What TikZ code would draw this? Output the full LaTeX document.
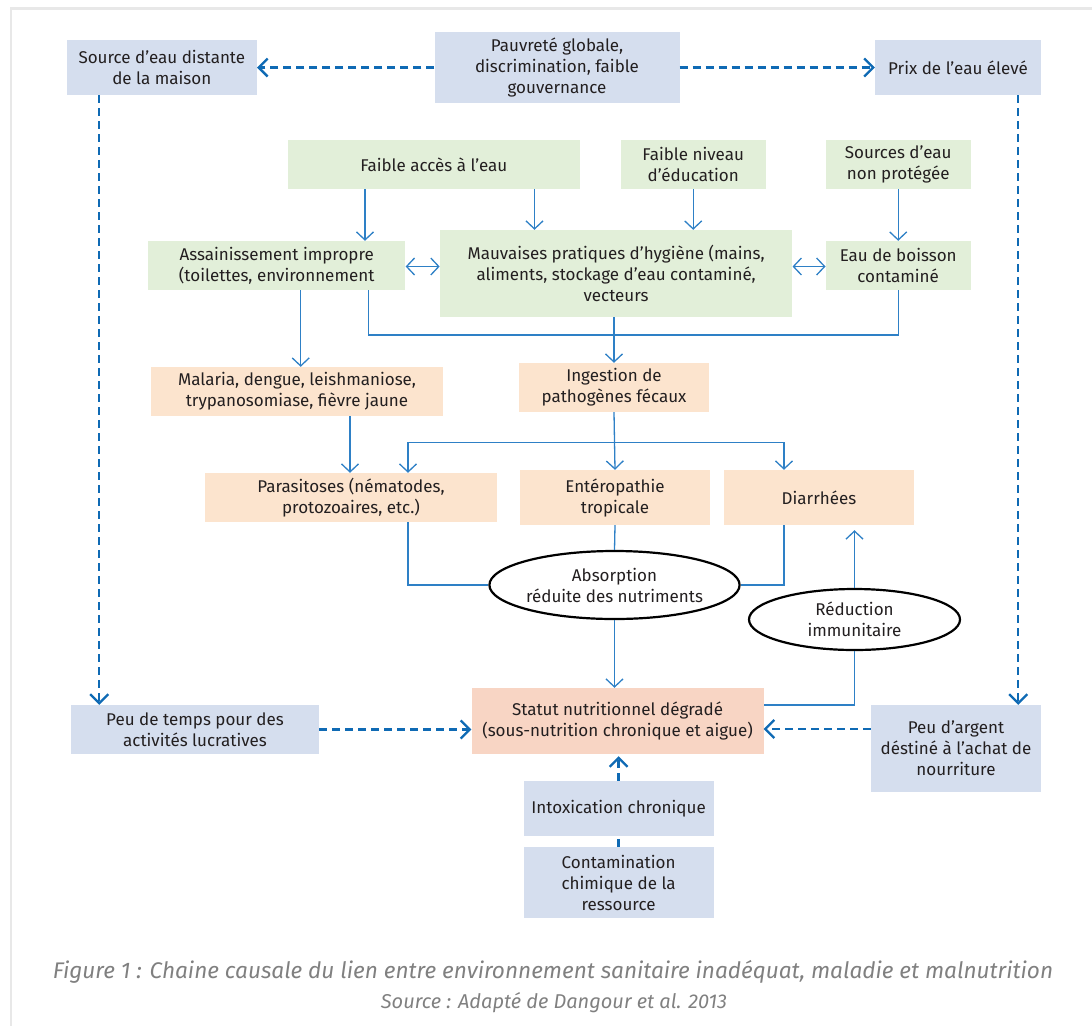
\documentclass[tikz,border=0pt]{standalone}
\usepackage{fontspec}
\setmainfont{Fira Sans}
\usetikzlibrary{shapes.geometric, positioning, arrows.meta}
\definecolor{blu}{HTML}{D5DEEE}
\definecolor{grn}{HTML}{E2EFD9}
\definecolor{org}{HTML}{FCE4CE}
\definecolor{sal}{HTML}{F8D5C4}
\definecolor{lnk}{HTML}{2E80C6}
\definecolor{dsh}{HTML}{0F6AB4}
\definecolor{txt}{HTML}{231F20}
\definecolor{cap}{HTML}{808080}
\tikzset{
x=1pt, y=-1pt, % one unit is one pixel of the layout, y downwards
box/.style={rectangle, inner sep=2pt, align=center, text=txt, font=\fontsize{17}{21}\selectfont},
bluebox/.style={box, fill=blu}, % context causes
greenbox/.style={box, fill=grn}, % water and hygiene
orangebox/.style={box, fill=org}, % diseases
salbox/.style={box, fill=sal}, % outcome
oval/.style={ellipse, draw=black, line width=2.2pt, fill=white, inner sep=0pt, align=center, text=txt, font=\fontsize{17}{21}\selectfont},
link/.style={draw=lnk, line width=1.3pt}, % plain connector
arr/.style={link, -{Straight Barb[length=8pt, width=17pt, line width=1.3pt]}},
dbl/.style={link, {Straight Barb[length=8pt, width=17pt, line width=1.3pt]}-{Straight Barb[length=8pt, width=17pt, line width=1.3pt]}},
dlink/.style={draw=dsh, line width=2.3pt, dash pattern=on 8pt off 5pt}, % indirect causes
darr/.style={dlink, -{Straight Barb[length=9pt, width=18pt, line width=2.3pt]}},
}

\begin{document}
\begin{tikzpicture}
\useasboundingbox (0,0) rectangle (1092,1026);
\draw[gray!18, line width=2.5pt] (11,1026) |- (1092,8.5);

% top row
\node[bluebox, minimum width=190pt, minimum height=55pt] (src) at (161.8,67.5) {Source d’eau distante\\de la maison};
\node[bluebox, minimum width=245pt, minimum height=71pt] (pov) at (557,67.5) {Pauvreté globale,\\discrimination, faible\\gouvernance};
\node[bluebox, minimum width=166pt, minimum height=55pt] (prix) at (958,67.5) {Prix de l’eau élevé};

% water, hygiene
\node[greenbox, minimum width=292pt, minimum height=49pt] (acces) at (433.8,164.5) {Faible accès à l’eau};
\node[greenbox, minimum width=145pt, minimum height=49pt] (niveau) at (693.2,164.5) {Faible niveau\\d’éducation};
\node[greenbox, minimum width=145pt, minimum height=49pt] (sources) at (898.2,164.5) {Sources d’eau\\non protégée};
\node[greenbox, minimum width=257.5pt, minimum height=49pt] (assain) at (276.7,265.5) {Assainissement impropre\\(toilettes, environnement};
\node[greenbox, minimum width=352.5pt, minimum height=87pt] (mauv) at (616.1,273.5) {Mauvaises pratiques d’hygiène (mains,\\aliments, stockage d’eau contaminé,\\vecteurs};
\node[greenbox, minimum width=145pt, minimum height=49pt] (eau) at (898.2,265.5) {Eau de boisson\\contaminé};

% diseases
\node[orangebox, minimum width=292pt, minimum height=49pt] (malaria) at (297,391.5) {Malaria, dengue, leishmaniose,\\trypanosomiase, fièvre jaune};
\node[orangebox, minimum width=190pt, minimum height=49pt] (ingest) at (614,387.5) {Ingestion de\\pathogènes fécaux};
\node[orangebox, minimum width=292pt, minimum height=49pt] (parasit) at (351,497.5) {Parasitoses (nématodes,\\protozoaires, etc.)};
\node[orangebox, minimum width=190pt, minimum height=55pt] (enter) at (615,497.5) {Entéropathie\\tropicale};
\node[orangebox, minimum width=190pt, minimum height=55pt] (diarr) at (819,497.5) {Diarrhées};
\node[oval, minimum width=247pt, minimum height=68pt] (absorb) at (614.5,585) {Absorption\\réduite des nutriments};
\node[oval, minimum width=211pt, minimum height=61pt] (reduc) at (854.5,619.5) {Réduction\\immunitaire};

% outcome
\node[salbox, minimum width=292pt, minimum height=66pt] (statut) at (617.5,721) {Statut nutritionnel dégradé\\(sous-nutrition chronique et aigue)};
\node[bluebox, minimum width=248pt, minimum height=49pt] (temps) at (195,729.5) {Peu de temps pour des\\activités lucratives};
\node[bluebox, minimum width=170.5pt, minimum height=87pt] (argent) at (956,748.5) {Peu d’argent\\déstiné à l’achat de\\nourriture};
\node[bluebox, minimum width=190pt, minimum height=55pt] (intox) at (618.6,808.5) {Intoxication chronique};
\node[bluebox, minimum width=190pt, minimum height=71pt] (contam) at (618.6,882.5) {Contamination\\chimique de la\\ressource};

% caption
\node[font=\fontsize{22.6}{24}\selectfont\itshape, text=cap] (fig) at (553,972) {Figure 1 : Chaine causale du lien entre environnement sanitaire inadéquat, maladie et malnutrition};
\node[font=\fontsize{20}{20}\selectfont\itshape, text=cap] (srcref) at (554,1003) {Source : Adapté de Dangour et al. 2013};

\coordinate (hub) at (614,335);
\coordinate (split) at (614,442.7);

% dashed links
\draw[darr] (pov.west) -- (src.east);
\draw[darr] (pov.east) -- (prix.west);
\draw[darr] ([xshift=-62.6pt]src.south) -- ([xshift=-62.6pt]src.south |- temps.north);
\draw[darr] ([xshift=60.2pt]prix.south) -- ([xshift=60.2pt]prix.south |- argent.north);
\draw[darr] (temps.east) -- (temps.east -| statut.west);
\draw[darr] ([yshift=19.5pt]argent.west) -- ([yshift=19.5pt]argent.west -| statut.east);
\draw[darr, shorten >=2pt] (intox.north) -- (intox.north |- statut.south);
\draw[dlink] (contam.north) -- (intox.south);

% plain links
\draw[arr] ([xshift=-68.8pt]acces.south) -- ([xshift=-68.8pt]acces.south |- assain.north);
\draw[arr] ([xshift=100.7pt]acces.south) -- ([xshift=100.7pt]acces.south |- mauv.north);
\draw[arr] (niveau.south) -- (niveau.south |- mauv.north);
\draw[arr] (sources.south) -- (eau.north);
\draw[dbl] ([yshift=-1pt]assain.east) -- ([yshift=-1pt]assain.east -| mauv.west);
\draw[dbl] ([yshift=-1pt]eau.west) -- ([yshift=-1pt]eau.west -| mauv.east);
\draw[arr] ([xshift=24pt]assain.south) -- ([xshift=24pt]assain.south |- malaria.north);
\draw[link] ([xshift=92pt]assain.south) |- (hub) -| (eau.south);
\draw[arr] (mauv.south -| hub) -- (ingest.north);
\draw[arr] ([xshift=53pt]malaria.south) -- ([xshift=53pt]malaria.south |- parasit.north);
\draw[arr] (ingest.south) -- (enter.north);
\draw[arr] (split) -| ([xshift=57pt]parasit.north);
\draw[arr] (split) -| ([xshift=-35pt]diarr.north);
\draw[link] ([xshift=57pt]parasit.south) |- (absorb.west);
\draw[link] ([xshift=-35pt]diarr.south) |- (absorb.east);
\draw[link] (enter.south) -- (absorb.north);
\draw[arr] (absorb.south) -- (absorb.south |- statut.north);
\draw[arr, shorten >=5pt] (reduc.north) -- (reduc.north |- diarr.south);
\draw[link] (reduc.south) |- ([yshift=16pt]statut.east);
\end{tikzpicture}
\end{document}
